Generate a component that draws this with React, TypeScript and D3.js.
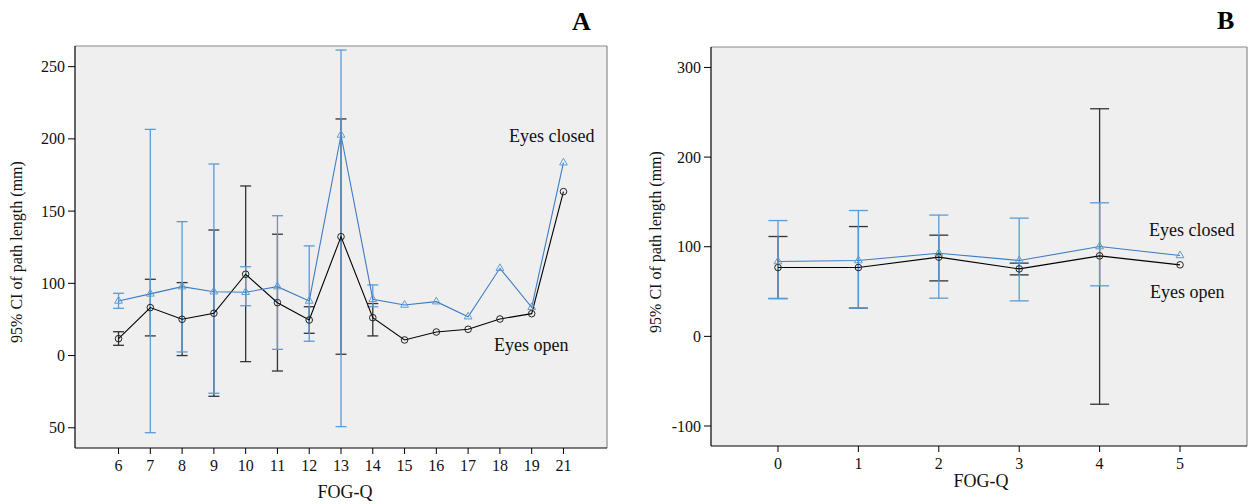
import React from "react";
import * as d3 from "d3";

// ---------- Panel A data ----------
const catsA = ["6", "7", "8", "9", "10", "11", "12", "13", "14", "15", "16", "17", "18", "19", "21"];
const openA = [61.7, 83.2, 75.1, 79.3, 106.3, 86.6, 74.6, 132.3, 76.2, 60.8, 66.3, 68.2, 75.3, 79.0, 163.5];
const openLoA = [57.1, 63.6, 50.0, 21.8, 45.8, 39.3, 65.4, 50.9, 63.6, null, null, null, null, null, null];
const openHiA = [66.5, 102.8, 100.5, 136.9, 167.4, 134.0, 83.8, 213.8, 86.0, null, null, null, null, null, null];
const closedA = [87.8, 92.7, 97.7, 94.2, 93.8, 97.7, 87.8, 202.7, 89.0, 85.0, 87.3, 76.9, 110.4, 83.4, 183.5];
const closedLoA = [82.7, -3.4, 52.5, 23.9, 84.5, 54.3, 59.9, 0.8, 83.8, null, null, null, null, null, null];
const closedHiA = [93.1, 206.6, 142.7, 182.6, 111.5, 146.8, 125.9, 261.5, 98.9, null, null, null, null, null, null];
const tickValsA = [250, 200, 150, 100, 50, 0];
const tickLabelsA = ["250", "200", "150", "100", "0", "50"];

// ---------- Panel B data ----------
const catsB = ["0", "1", "2", "3", "4", "5"];
const openB = [76.8, 76.8, 88.4, 75.3, 89.8, 79.8];
const openLoB = [42.2, 31.5, 61.9, 68.6, -75.7, null];
const openHiB = [111.4, 122.5, 112.9, 81.7, 253.9, null];
const closedB = [83.5, 84.6, 92.8, 84.6, 100.2, 90.2];
const closedLoB = [42.2, 31.5, 42.6, 39.6, 56.4, null];
const closedHiB = [129.2, 140.4, 135.3, 131.9, 149.0, null];
const tickValsB = [300, 200, 100, 0, -100];
const tickLabelsB = ["300", "200", "100", "0", "-100"];

const FONT = "'Liberation Serif', 'Times New Roman', serif";
const BLUE_BAR = "#5b9bd5";
const BLUE_LINE = "#3d7cc4";
const BLACK_BAR = "#333";

type PanelProps = {
  cats: string[];
  open: number[];
  openLo: (number | null)[];
  openHi: (number | null)[];
  closed: number[];
  closedLo: (number | null)[];
  closedHi: (number | null)[];
  tickVals: number[];
  tickLabels: string[];
  left: number; right: number; top: number; bottom: number;
  domain: [number, number];
  padding: number;
  capW: number;
  letter: string; letterX: number; letterY: number;
  titleX: number; titleY: number;
  xTitleX: number; xTitleY: number;
  closedLbl: [number, number]; openLbl: [number, number];
  markerR: number; triSize: number;
};

function Panel(p: PanelProps) {
  const x = d3.scalePoint<string>().domain(p.cats).range([p.left, p.right]).padding(p.padding);
  const y = d3.scaleLinear().domain(p.domain).range([p.bottom, p.top]);
  const line = d3.line<number>().x((_, i) => x(p.cats[i])!).y((d) => y(d));
  const tri = d3.symbol().type(d3.symbolTriangle).size(p.triSize)()!;

  const bars = (lo: (number | null)[], hi: (number | null)[], color: string, w: number) =>
    p.cats.map((c, i) => {
      const l = lo[i], h = hi[i];
      if (l == null || h == null) return null;
      const cx = x(c)!;
      return (
        <g key={c} stroke={color} strokeWidth={1.3}>
          <line x1={cx} x2={cx} y1={y(h)} y2={y(l)} />
          <line x1={cx - w / 2} x2={cx + w / 2} y1={y(h)} y2={y(h)} />
          <line x1={cx - w / 2} x2={cx + w / 2} y1={y(l)} y2={y(l)} />
        </g>
      );
    });

  return (
    <g fontFamily={FONT}>
      <rect x={p.left} y={p.top} width={p.right - p.left} height={p.bottom - p.top} fill="#efefef" />
      <line x1={p.left} x2={p.right} y1={p.top} y2={p.top} stroke="#8a8a8a" strokeWidth={1.2} />
      <line x1={p.right} x2={p.right} y1={p.top} y2={p.bottom} stroke="#8a8a8a" strokeWidth={1.2} />
      <line x1={p.left} x2={p.left} y1={p.top} y2={p.bottom} stroke="#000" strokeWidth={1.2} />
      <line x1={p.left} x2={p.right} y1={p.bottom} y2={p.bottom} stroke="#000" strokeWidth={1.2} />

      {p.tickVals.map((v, i) => (
        <g key={v}>
          <line x1={p.left - 7} x2={p.left} y1={y(v)} y2={y(v)} stroke="#000" />
          <text x={p.left - 10} y={y(v)} dy="0.35em" textAnchor="end" fontSize={16} fill="#111">
            {p.tickLabels[i]}
          </text>
        </g>
      ))}
      {p.cats.map((c) => (
        <g key={c}>
          <line x1={x(c)!} x2={x(c)!} y1={p.bottom} y2={p.bottom + 6} stroke="#000" />
          <text x={x(c)!} y={p.bottom + 23} textAnchor="middle" fontSize={16} fill="#111">
            {c}
          </text>
        </g>
      ))}

      {bars(p.openLo, p.openHi, BLACK_BAR, p.capW)}
      {bars(p.closedLo, p.closedHi, BLUE_BAR, p.capW)}

      <path d={line(p.open)!} fill="none" stroke="#000" strokeWidth={1.1} />
      <path d={line(p.closed)!} fill="none" stroke={BLUE_LINE} strokeWidth={1.1} />
      {p.open.map((v, i) => (
        <circle key={i} cx={x(p.cats[i])!} cy={y(v)} r={p.markerR} fill="none" stroke="#222" strokeWidth={1} />
      ))}
      {p.closed.map((v, i) => (
        <path key={i} d={tri} transform={`translate(${x(p.cats[i])},${y(v)})`} fill="none" stroke={BLUE_BAR} strokeWidth={1} />
      ))}

      <text x={p.closedLbl[0]} y={p.closedLbl[1]} fontSize={18} fill="#111">Eyes closed</text>
      <text x={p.openLbl[0]} y={p.openLbl[1]} fontSize={18} fill="#111">Eyes open</text>

      <text x={p.letterX} y={p.letterY} fontSize={26} fontWeight="bold" fill="#000">{p.letter}</text>
      <text
        transform={`translate(${p.titleX},${p.titleY}) rotate(-90)`}
        textAnchor="middle"
        dy="0.35em"
        fontSize={16}
        fill="#111"
      >
        95% CI of path length (mm)
      </text>
      <text x={p.xTitleX} y={p.xTitleY} textAnchor="middle" fontSize={18} fill="#111">FOG-Q</text>
    </g>
  );
}

export default function App() {
  return (
    <svg width={1254} height={504} style={{ position: "absolute", left: 0, top: 0, background: "#fff" }}>
      <Panel
        cats={catsA} open={openA} openLo={openLoA} openHi={openHiA}
        closed={closedA} closedLo={closedLoA} closedHi={closedHiA}
        tickVals={tickValsA} tickLabels={tickLabelsA}
        left={75} right={607} top={46} bottom={448} domain={[-14, 264.3]} padding={1.37}
        capW={11} letter="A" letterX={572} letterY={30}
        titleX={16} titleY={252} xTitleX={345} xTitleY={498}
        closedLbl={[509, 142]} openLbl={[494, 351]} markerR={3.3} triSize={26}
      />
      <Panel
        cats={catsB} open={openB} openLo={openLoB} openHi={openHiB}
        closed={closedB} closedLo={closedLoB} closedHi={closedHiB}
        tickVals={tickValsB} tickLabels={tickLabelsB}
        left={711} right={1247} top={47} bottom={446} domain={[-122.3, 322.8]} padding={0.833}
        capW={19} letter="B" letterX={1217} letterY={29}
        titleX={655} titleY={242} xTitleX={981} xTitleY={487}
        closedLbl={[1149, 236]} openLbl={[1150, 298]} markerR={3.3} triSize={26}
      />
    </svg>
  );
}
